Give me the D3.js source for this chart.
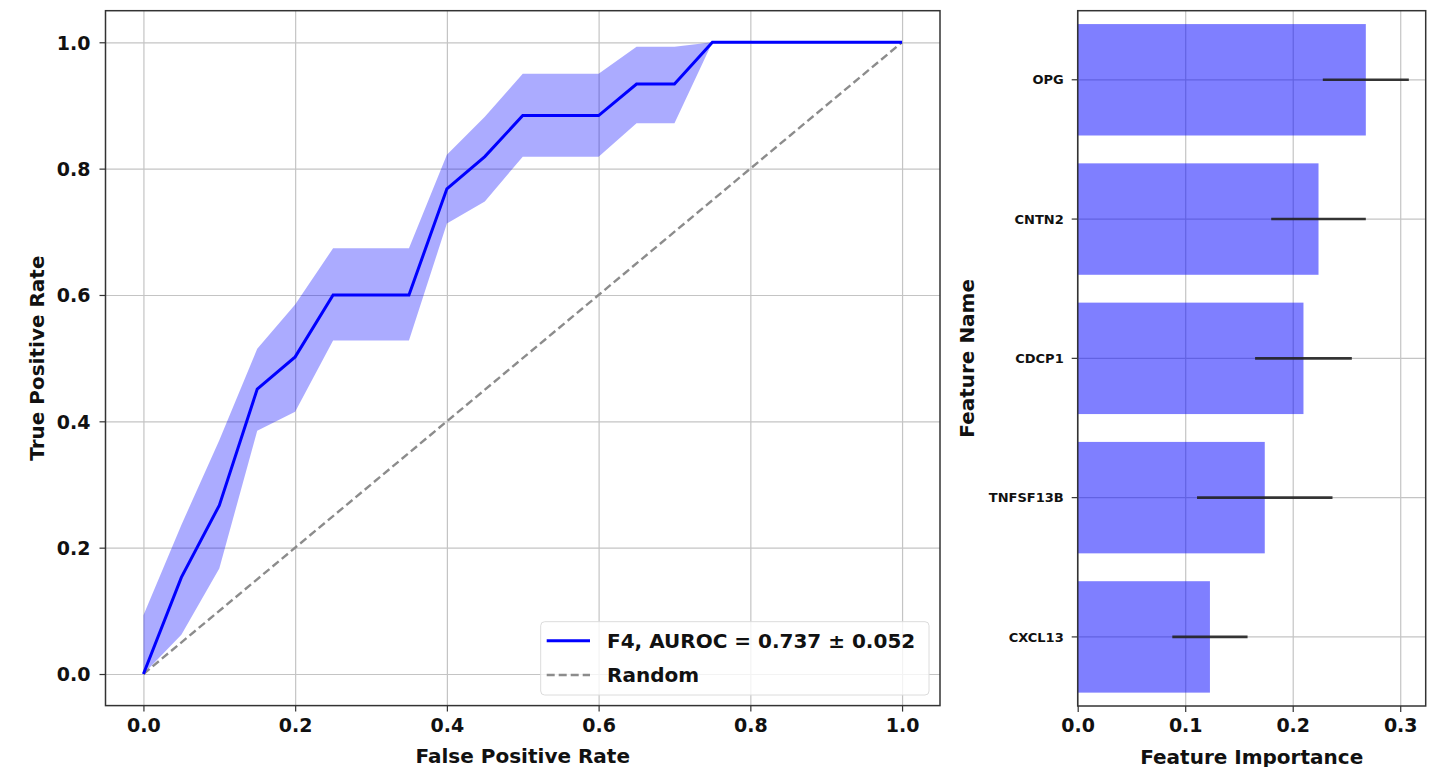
<!DOCTYPE html>
<html>
<head>
<meta charset="utf-8">
<script src="https://cdn.jsdelivr.net/npm/d3@7"></script>
<style>
  body { margin: 0; background: #fff; }
  svg { display: block; font-family: 'DejaVu Sans', sans-serif; font-weight: bold; }
  .grid line { stroke: #c4c4c4; stroke-width: 1.2; }
  .grid path { display: none; }
  .axis path { display: none; }
  .axis line { stroke: #333; stroke-width: 1.2; }
</style>
</head>
<body>
<svg id="chart" width="1437" height="767"></svg>
<script>
// ROC curve (mean over folds) and its band
const fpr = [0, 0.05, 0.1, 0.15, 0.2, 0.25, 0.3, 0.35, 0.4, 0.45, 0.5, 0.55, 0.6, 0.65, 0.7, 0.75, 0.8, 0.85, 0.9, 0.95, 1.0]
const tprMean = [0, 0.153, 0.267, 0.451, 0.502, 0.6, 0.6, 0.6, 0.768, 0.819, 0.884, 0.884, 0.884, 0.934, 0.934, 1, 1, 1, 1, 1, 1]
const tprUpper = [0.093, 0.236, 0.37, 0.515, 0.585, 0.674, 0.674, 0.674, 0.822, 0.882, 0.95, 0.95, 0.95, 0.993, 0.993, 1, 1, 1, 1, 1, 1]
const tprLower = [0, 0.062, 0.167, 0.385, 0.415, 0.528, 0.528, 0.528, 0.713, 0.748, 0.819, 0.819, 0.819, 0.872, 0.872, 1, 1, 1, 1, 1, 1]
const rocTicks = [0, 0.2, 0.4, 0.6, 0.8, 1.0]
const rocLegend = ['F4, AUROC = 0.737 ± 0.052', 'Random']

// Feature importances (top to bottom)
const features = ['OPG', 'CNTN2', 'CDCP1', 'TNFSF13B', 'CXCL13']
const importance = [0.268, 0.224, 0.21, 0.174, 0.123]
const importanceErr = [0.04, 0.044, 0.045, 0.063, 0.035]
const importanceTicks = [0, 0.1, 0.2, 0.3]

const svg = d3.select('#chart')
const FONT = "'DejaVu Sans', sans-serif"

// style tick labels of an axis group
function styleTicks (sel, size) {
  sel.selectAll('text')
    .style('font-family', FONT)
    .style('font-weight', 'bold')
    .style('font-size', size)
    .attr('fill', '#111')
}

/**
 * Draws the ROC panel on the left.
 */
function drawRoc () {
  const left = 105.5, right = 940, top = 10.7, bottom = 705.6
  const x = d3.scaleLinear().domain([-0.05, 1.05]).range([left, right])
  const y = d3.scaleLinear().domain([-0.05, 1.05]).range([bottom, top])
  const g = svg.append('g')

  // grid
  g.append('g').attr('class', 'grid')
    .attr('transform', `translate(0,${bottom})`)
    .call(d3.axisBottom(x).tickValues(rocTicks).tickSize(-(bottom - top)).tickFormat(''))
  g.append('g').attr('class', 'grid')
    .attr('transform', `translate(${left},0)`)
    .call(d3.axisLeft(y).tickValues(rocTicks).tickSize(-(right - left)).tickFormat(''))

  const pts = fpr.map((f, i) => ({ f, m: tprMean[i], lo: tprLower[i], hi: tprUpper[i] }))

  // +/- band
  g.append('path').datum(pts)
    .attr('d', d3.area().x(d => x(d.f)).y0(d => y(d.lo)).y1(d => y(d.hi)))
    .attr('fill', '#0000ff').attr('fill-opacity', 0.33)

  // chance line
  g.append('path').datum([0, 1])
    .attr('d', d3.line().x(d => x(d)).y(d => y(d)))
    .attr('fill', 'none').attr('stroke', '#8c8c8c').attr('stroke-width', 2.4)
    .attr('stroke-dasharray', '8,4')

  // mean curve
  g.append('path').datum(pts)
    .attr('d', d3.line().x(d => x(d.f)).y(d => y(d.m)))
    .attr('fill', 'none').attr('stroke', '#0000ff').attr('stroke-width', 3)

  // axes
  g.append('g').attr('class', 'axis')
    .attr('transform', `translate(0,${bottom})`)
    .call(d3.axisBottom(x).tickValues(rocTicks).tickFormat(d3.format('.1f')).tickSize(6).tickPadding(7))
    .call(styleTicks, '19px')
  g.append('g').attr('class', 'axis')
    .attr('transform', `translate(${left},0)`)
    .call(d3.axisLeft(y).tickValues(rocTicks).tickFormat(d3.format('.1f')).tickSize(6).tickPadding(9))
    .call(styleTicks, '19px')
    .selectAll('text').attr('dy', '0.36em')

  g.append('rect')
    .attr('x', left).attr('y', top).attr('width', right - left).attr('height', bottom - top)
    .attr('fill', 'none').attr('stroke', '#333').attr('stroke-width', 1.5)

  // labels
  g.append('text').attr('x', (left + right) / 2).attr('y', 763)
    .attr('text-anchor', 'middle').style('font-size', '20px').attr('fill', '#111')
    .text('False Positive Rate')
  g.append('text').attr('transform', `translate(44,${(top + bottom) / 2}) rotate(-90)`)
    .attr('text-anchor', 'middle').style('font-size', '20px').attr('fill', '#111')
    .text('True Positive Rate')

  // legend
  const lg = g.append('g')
  lg.append('rect').attr('x', 540.7).attr('y', 621.7).attr('width', 388.3).attr('height', 73.3)
    .attr('rx', 4).attr('fill', '#fff').attr('fill-opacity', 0.8)
    .attr('stroke', '#dcdcdc').attr('stroke-width', 1)
  const rows = lg.selectAll('g.row').data(rocLegend).enter().append('g')
    .attr('transform', (d, i) => `translate(0,${640.7 + i * 34.3})`)
  rows.append('line').attr('x1', 546.7).attr('x2', 590)
    .attr('stroke', (d, i) => i === 0 ? '#0000ff' : '#8c8c8c')
    .attr('stroke-width', (d, i) => i === 0 ? 3 : 2.4)
    .attr('stroke-dasharray', (d, i) => i === 0 ? null : '8,4')
  rows.append('text').attr('x', 607).attr('dy', '0.36em')
    .style('font-size', '20px').attr('fill', '#111')
    .text(d => d)
}

/**
 * Draws the horizontal feature importance bars on the right.
 */
function drawImportance () {
  const left = 1077.7, right = 1425.7, top = 10.7, bottom = 706
  const x = d3.scaleLinear().domain([0, 0.3237]).range([left, right])
  const y = d3.scaleBand().domain(features).range([top, bottom])
    .paddingInner(0.2).paddingOuter(0.096)
  const g = svg.append('g')
  const mid = d => y(d) + y.bandwidth() / 2

  // grid
  g.append('g').attr('class', 'grid')
    .attr('transform', `translate(0,${bottom})`)
    .call(d3.axisBottom(x).tickValues(importanceTicks).tickSize(-(bottom - top)).tickFormat(''))
  g.selectAll('line.hgrid').data(features).enter().append('line')
    .attr('x1', left).attr('x2', right).attr('y1', mid).attr('y2', mid)
    .attr('stroke', '#c4c4c4').attr('stroke-width', 1.2)

  // bars
  g.selectAll('rect.bar').data(features).enter().append('rect')
    .attr('x', x(0)).attr('y', d => y(d))
    .attr('width', (d, i) => x(importance[i]) - x(0))
    .attr('height', y.bandwidth())
    .attr('fill', '#0000ff').attr('fill-opacity', 0.5)

  // error bars
  g.selectAll('line.err').data(features).enter().append('line')
    .attr('x1', (d, i) => x(importance[i] - importanceErr[i]))
    .attr('x2', (d, i) => x(importance[i] + importanceErr[i]))
    .attr('y1', mid).attr('y2', mid)
    .attr('stroke', '#222').attr('stroke-opacity', 0.9).attr('stroke-width', 2.6)

  // axes
  g.append('g').attr('class', 'axis')
    .attr('transform', `translate(0,${bottom})`)
    .call(d3.axisBottom(x).tickValues(importanceTicks).tickFormat(d3.format('.1f')).tickSize(6).tickPadding(7))
    .call(styleTicks, '19px')
  g.append('g').attr('class', 'axis')
    .attr('transform', `translate(${left},0)`)
    .call(d3.axisLeft(y).tickSize(6).tickPadding(8))
    .call(styleTicks, '13px')
    .selectAll('text').attr('dy', '0.36em')

  g.append('rect')
    .attr('x', left).attr('y', top).attr('width', right - left).attr('height', bottom - top)
    .attr('fill', 'none').attr('stroke', '#333').attr('stroke-width', 1.5)

  // labels
  g.append('text').attr('x', (left + right) / 2).attr('y', 763.5)
    .attr('text-anchor', 'middle').style('font-size', '20px').attr('fill', '#111')
    .text('Feature Importance')
  g.append('text').attr('transform', `translate(974,${(top + bottom) / 2}) rotate(-90)`)
    .attr('text-anchor', 'middle').style('font-size', '20px').attr('fill', '#111')
    .text('Feature Name')
}

drawRoc()
drawImportance()
</script>
</body>
</html>
